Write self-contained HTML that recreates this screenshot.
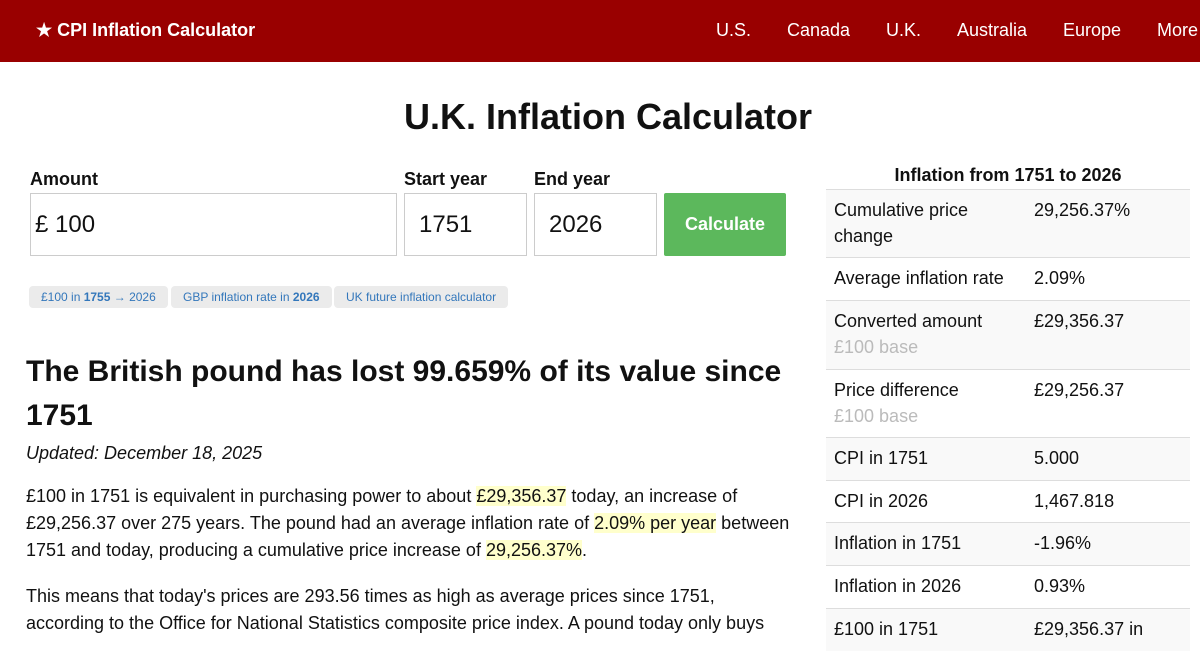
<!DOCTYPE html>
<html><head><style>
*{box-sizing:border-box;margin:0;padding:0}
body{width:1200px;height:630px;overflow:hidden;background:#fff;font-family:"Liberation Sans",sans-serif;color:#111;position:relative}
.nav{position:absolute;left:0;top:0;width:1200px;height:62px;background:#990000;color:#fff;font-size:18px}
.nav span{position:absolute;top:20px}
.a{position:absolute}
h1{position:absolute;top:96px;left:0;width:1216px;text-align:center;font-size:36px;font-weight:bold}
.lbl{font-size:18px;font-weight:bold;top:169px}
.box{border:1px solid #ccc;height:63px;top:193px;font-size:24px;padding:17px 0 0 0}
.btn{left:664px;top:193px;width:122px;height:63px;background:#5cb85c;color:#fff;font-weight:bold;font-size:18px;text-align:center;line-height:62px;border-radius:2px}
.pill{top:286px;height:22px;background:#ebebeb;border-radius:4px;font-size:12px;color:#3377bb;line-height:22px;padding:0 12px}
h2{position:absolute;left:26px;top:350px;width:780px;font-size:30px;line-height:44px;font-weight:bold}
.p{left:26px;width:775px;font-size:18px;line-height:27px}
.hl{background:#ffffcc}
.t{position:absolute;left:826px;width:364px;font-size:18px}
.r{position:absolute;left:0;width:364px;border-top:1px solid #ddd;line-height:26px}
.r.g{background:#f9f9f9}
.r .k{position:absolute;left:8px;top:7px;width:195px}
.r .v{position:absolute;left:208px;top:7px}
.s{color:#bbb}
</style></head><body>
<div class="nav"><span style="left:36px;font-weight:bold">★ CPI Inflation Calculator</span>
<span style="left:716px">U.S.</span><span style="left:787px">Canada</span><span style="left:886px">U.K.</span><span style="left:957px">Australia</span><span style="left:1063px">Europe</span><span style="left:1157px">More</span></div>
<h1>U.K. Inflation Calculator</h1>
<div class="a lbl" style="left:30px">Amount</div>
<div class="a lbl" style="left:404px">Start year</div>
<div class="a lbl" style="left:534px">End year</div>
<div class="a box" style="left:30px;width:367px;padding-left:4px">£ 100</div>
<div class="a box" style="left:404px;width:123px;padding-left:14px">1751</div>
<div class="a box" style="left:534px;width:123px;padding-left:14px">2026</div>
<div class="a btn">Calculate</div>
<div class="a pill" style="left:29px">£100 in <b>1755</b> → 2026</div>
<div class="a pill" style="left:171px">GBP inflation rate in <b>2026</b></div>
<div class="a pill" style="left:334px">UK future inflation calculator</div>
<h2>The British pound has lost 99.659% of its value since 1751</h2>
<div class="a p" style="top:440px;font-style:italic">Updated: December 18, 2025</div>
<div class="a p" style="top:483px">£100 in 1751 is equivalent in purchasing power to about <span class="hl">£29,356.37</span> today, an increase of £29,256.37 over 275 years. The pound had an average inflation rate of <span class="hl">2.09% per year</span> between 1751 and today, producing a cumulative price increase of <span class="hl">29,256.37%</span>.</div>
<div class="a p" style="top:583px;width:745px">This means that today's prices are 293.56 times as high as average prices since 1751, according to the Office for National Statistics composite price index. A pound today only buys</div>
<div class="t" style="top:165px;text-align:center;font-weight:bold;width:364px">Inflation from 1751 to 2026</div>
<div class="t" style="top:189px">
<div class="r g" style="top:0;height:68px"><div class="k">Cumulative price change</div><div class="v">29,256.37%</div></div>
<div class="r" style="top:68px;height:43px"><div class="k">Average inflation rate</div><div class="v">2.09%</div></div>
<div class="r g" style="top:111px;height:69px"><div class="k">Converted amount<br><span class="s">£100 base</span></div><div class="v">£29,356.37</div></div>
<div class="r" style="top:180px;height:68px"><div class="k">Price difference<br><span class="s">£100 base</span></div><div class="v">£29,256.37</div></div>
<div class="r g" style="top:248px;height:43px"><div class="k">CPI in 1751</div><div class="v">5.000</div></div>
<div class="r" style="top:291px;height:42px"><div class="k">CPI in 2026</div><div class="v">1,467.818</div></div>
<div class="r g" style="top:333px;height:43px"><div class="k">Inflation in 1751</div><div class="v">-1.96%</div></div>
<div class="r" style="top:376px;height:43px"><div class="k">Inflation in 2026</div><div class="v">0.93%</div></div>
<div class="r g" style="top:419px;height:43px"><div class="k">£100 in 1751</div><div class="v">£29,356.37 in</div></div>
</div>
</body></html>
